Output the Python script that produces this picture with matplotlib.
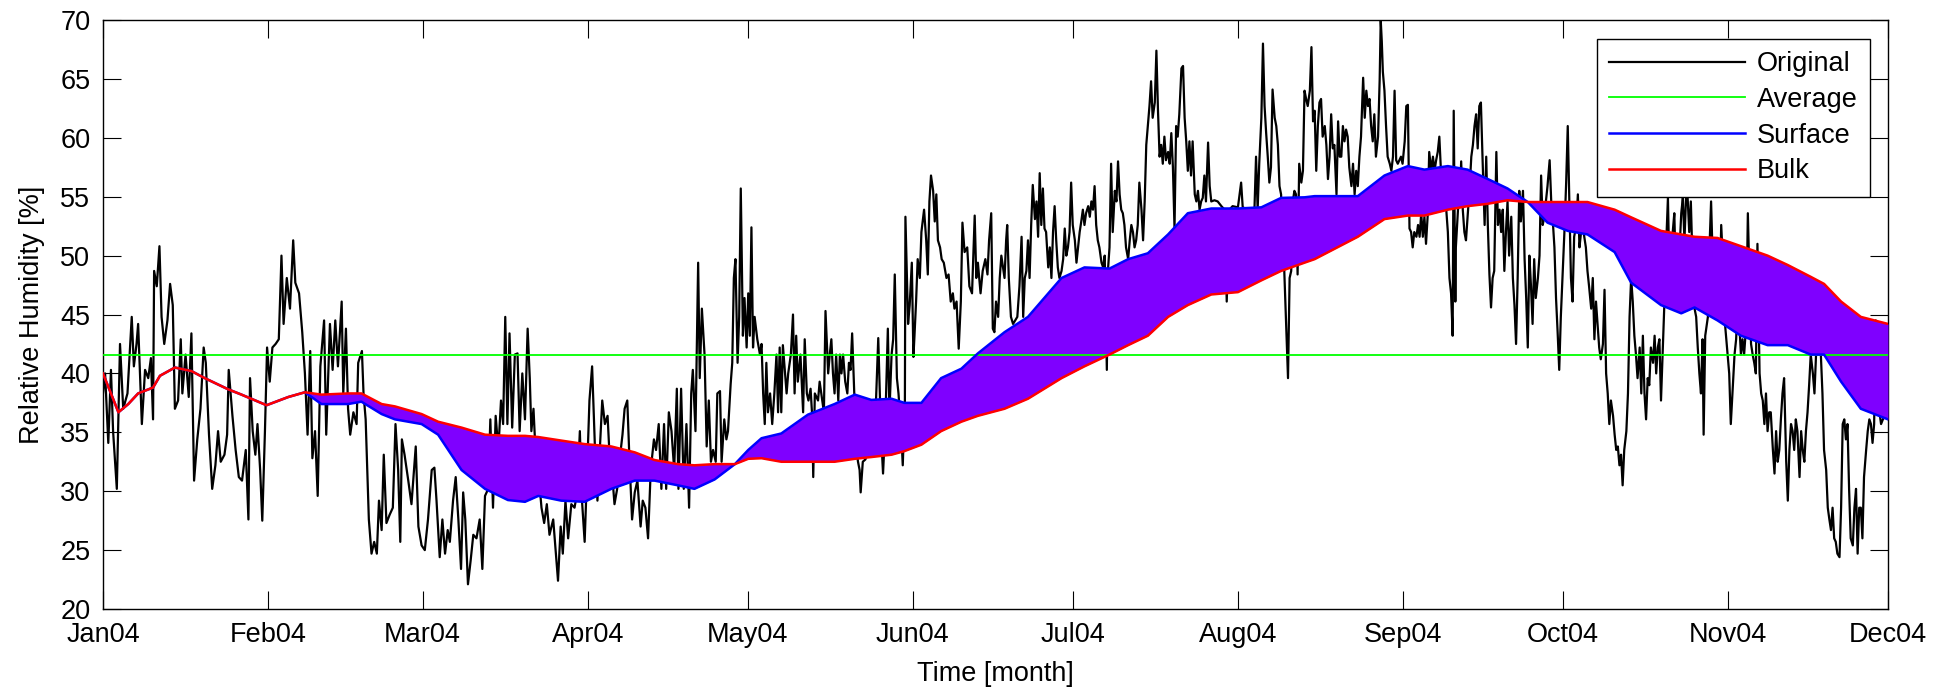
import numpy as np
import pandas as pd
import matplotlib
matplotlib.use('Agg')
import matplotlib.pyplot as plt
import matplotlib.dates as mdates

plt.rcParams['font.family'] = ['Liberation Sans', 'DejaVu Sans']

start = pd.Timestamp('2004-01-01')
end = pd.Timestamp('2004-12-01')

orig_pts = [
    (0.0, 38.3), (0.4, 40.0), (1.0, 34.1), (1.5, 40.3), (1.9, 35.1), (2.6, 30.2), (3.2, 42.5), (3.8, 37.0),
    (4.6, 38.3), (5.4, 44.8), (5.8, 40.6), (6.3, 42.5), (6.6, 44.2), (7.3, 35.7), (7.9, 40.3), (8.5, 39.6),
    (9.0, 41.3), (9.4, 36.1), (9.6, 48.7), (10.1, 47.4), (10.6, 50.8), (11.0, 44.8), (11.5, 42.5), (12.1, 44.5),
    (12.6, 47.6), (13.1, 45.8), (13.5, 37.0), (14.1, 37.7), (14.6, 42.9), (14.9, 38.3), (15.5, 41.6), (16.1, 38.0),
    (16.6, 43.4), (17.1, 30.9), (17.7, 34.4), (18.3, 37.0), (18.9, 42.2), (19.3, 40.9), (19.9, 34.8), (20.5, 30.2),
    (21.1, 32.2), (21.6, 35.1), (22.1, 32.5), (22.8, 33.1), (23.3, 34.8), (23.6, 40.3), (24.3, 36.4), (24.9, 33.5),
    (25.5, 31.2), (26.1, 30.9), (26.8, 33.5), (27.3, 27.6), (27.6, 39.6), (28.1, 35.1), (28.6, 33.1), (29.0, 35.7),
    (29.5, 31.8), (29.9, 27.5), (30.4, 35.1), (30.8, 42.2), (31.3, 39.3), (31.8, 42.2), (32.4, 42.5), (33.0, 42.9),
    (33.5, 50.0), (33.9, 44.2), (34.5, 48.1), (35.1, 45.5), (35.7, 51.3), (36.1, 47.7), (36.8, 46.8), (37.4, 43.5),
    (37.9, 40.0), (38.4, 34.8), (38.9, 41.9), (39.3, 32.8), (39.8, 35.1), (40.3, 29.6), (40.8, 40.6), (41.5, 44.5),
    (41.9, 34.8), (42.6, 44.2), (43.1, 40.3), (43.6, 44.5), (44.1, 40.6), (44.8, 46.1), (45.1, 38.3), (45.6, 43.8),
    (46.0, 37.0), (46.4, 34.8), (47.0, 36.7), (47.6, 35.7), (47.9, 40.9), (48.6, 41.9), (48.9, 38.3), (49.3, 36.1),
    (49.9, 27.6), (50.4, 24.7), (50.9, 25.7), (51.4, 24.7), (51.8, 29.2), (52.3, 26.7), (52.7, 33.1), (53.2, 27.3),
    (53.8, 28.0), (54.4, 28.6), (54.9, 35.7), (55.4, 31.8), (55.8, 25.7), (56.1, 34.4), (56.6, 33.1),
    # March
    (57.3, 30.9), (57.9, 28.9), (58.7, 33.8), (59.2, 27.0), (59.8, 25.4), (60.4, 25.0), (61.0, 27.6), (61.7, 31.8),
    (62.2, 32.0), (62.6, 29.2), (63.2, 24.4), (63.7, 27.6), (64.2, 24.7), (64.7, 26.7), (65.1, 25.7), (65.7, 29.2),
    (66.2, 31.2), (66.7, 27.6), (67.2, 23.4), (67.6, 29.9), (68.0, 27.6), (68.5, 22.1), (69.0, 24.1), (69.5, 26.3),
    (70.1, 26.0), (70.7, 27.6), (71.2, 23.4), (71.7, 29.6), (72.3, 30.2), (72.7, 36.1), (73.2, 28.6), (73.7, 36.4),
    (74.2, 33.5), (74.7, 37.7), (75.1, 35.7), (75.5, 44.8), (75.9, 35.7), (76.3, 43.4), (76.8, 35.4), (77.3, 41.6),
    (77.8, 41.7), (78.2, 35.1), (78.7, 40.0), (79.2, 36.1), (79.7, 43.8), (80.1, 39.6), (80.4, 35.1), (80.8, 37.0),
    (81.3, 32.2), (81.8, 31.2), (82.3, 28.6), (82.8, 27.3), (83.3, 28.9), (83.8, 26.3), (84.5, 27.6), (85.0, 24.7),
    (85.4, 22.4), (85.9, 27.0), (86.3, 24.7), (86.8, 29.2), (87.3, 26.0), (87.9, 28.9), (88.5, 28.6), (89.0, 29.9),
    (89.5, 35.1), (89.9, 29.2), (90.4, 25.7), (90.8, 30.9),
    # April
    (91.3, 37.7), (91.8, 40.6), (92.3, 34.1), (92.8, 29.2), (93.2, 33.1), (93.7, 37.7), (94.2, 35.7), (94.7, 36.4),
    (95.1, 32.8), (95.5, 31.8), (96.0, 28.9), (96.5, 30.2), (97.0, 32.8), (97.5, 34.8), (97.9, 37.0), (98.4, 37.7),
    (98.8, 32.8), (99.3, 27.6), (99.8, 29.9), (100.3, 30.9), (100.9, 27.0), (101.3, 29.2), (101.8, 28.6), (102.3, 26.0),
    (102.8, 31.8), (103.4, 34.4), (103.8, 33.5), (104.3, 35.7), (104.8, 30.2), (105.3, 35.7), (105.7, 30.2), (106.2, 36.7),
    (106.7, 35.1), (107.2, 31.8), (107.7, 38.7), (108.0, 30.2), (108.5, 38.7), (109.0, 30.2), (109.5, 35.7), (110.0, 28.6),
    (110.4, 38.3), (110.7, 40.3), (111.2, 35.1), (111.7, 49.4), (112.0, 39.6), (112.4, 45.5), (112.9, 41.6),
    (113.3, 33.8), (113.7, 37.7), (114.1, 32.5), (114.5, 33.5), (115.0, 32.5), (115.3, 38.3), (115.8, 38.5), (116.1, 32.5),
    (116.6, 36.1), (117.0, 34.4), (117.3, 35.1), (117.8, 39.1), (118.1, 40.9), (118.4, 48.1), (118.7, 49.7), (119.1, 40.9),
    (119.4, 44.8), (119.7, 55.7), (120.1, 43.2), (120.4, 46.4), (120.8, 42.2),
    # May
    (121.1, 46.8), (121.4, 43.2), (121.7, 52.4), (122.0, 42.2), (122.3, 44.8), (122.8, 42.9), (123.3, 41.6), (123.6, 42.5),
    (123.9, 38.3), (124.2, 35.7), (124.5, 40.9), (124.8, 36.7), (125.2, 38.3), (125.6, 35.7), (126.0, 38.3), (126.4, 41.6),
    (126.7, 36.7), (127.0, 42.2), (127.3, 36.7), (127.6, 42.4), (128.0, 40.0), (128.3, 38.3), (128.6, 40.0), (129.1, 41.6),
    (129.5, 45.0), (129.8, 38.3), (130.1, 43.2), (130.4, 39.3), (130.9, 41.6), (131.4, 36.7), (131.7, 42.9), (132.1, 38.3),
    (132.4, 37.7), (132.8, 38.7), (133.1, 36.4), (133.3, 31.2), (133.6, 38.3), (134.2, 37.7), (134.5, 39.3), (134.8, 38.3),
    (135.3, 36.7), (135.6, 45.3), (136.1, 40.0), (136.4, 41.6), (136.7, 42.9), (137.0, 40.0), (137.3, 38.3), (137.6, 41.6),
    (138.0, 37.7), (138.3, 41.6), (138.6, 40.0), (138.9, 41.6), (139.3, 39.3), (139.7, 38.3), (140.0, 40.9), (140.3, 40.3),
    (140.6, 43.4), (141.0, 38.3), (141.4, 33.5), (141.7, 32.5), (142.0, 31.8), (142.2, 29.9), (142.6, 32.5), (143.1, 32.7),
    (143.6, 33.5), (144.1, 36.7), (144.5, 34.4), (145.0, 36.7), (145.5, 43.0), (146.0, 35.1), (146.4, 31.5), (146.8, 35.4),
    (147.3, 43.8), (147.6, 36.7), (148.0, 41.6), (148.3, 42.9), (148.6, 48.4), (149.0, 39.6), (149.3, 38.3), (149.8, 35.1),
    (150.1, 32.2), (150.5, 37.7), (150.6, 53.3), (151.1, 44.2), (151.4, 45.8), (151.8, 49.4),
    # June
    (152.1, 41.4), (152.3, 43.2), (152.6, 46.1), (152.9, 49.7), (153.3, 48.1), (153.6, 52.0), (154.1, 53.9), (154.5, 51.3),
    (154.8, 48.4), (155.1, 54.6), (155.4, 56.8), (155.8, 55.5), (156.1, 52.9), (156.4, 55.2), (156.7, 51.3), (157.1, 50.7),
    (157.4, 49.7), (157.8, 49.4), (158.3, 48.1), (158.7, 48.4), (159.1, 46.1), (159.5, 46.8), (159.8, 45.5), (160.2, 46.1),
    (160.6, 42.1), (161.0, 46.1), (161.3, 52.8), (161.7, 50.3), (162.2, 50.7), (162.6, 47.4), (163.1, 46.8), (163.6, 53.4),
    (163.9, 48.1), (164.2, 49.4), (164.7, 46.8), (165.1, 48.7), (165.6, 49.7), (166.0, 48.4), (166.3, 51.3), (166.7, 53.6),
    (167.0, 43.8), (167.3, 43.5), (167.6, 46.1), (168.0, 44.8), (168.3, 48.1), (168.6, 50.0), (169.2, 48.1),
    (169.5, 51.3), (169.7, 52.6), (170.0, 48.1), (170.4, 44.8), (170.8, 44.2), (171.2, 44.5), (171.6, 44.8), (172.0, 47.4),
    (172.4, 51.6), (172.7, 44.8), (173.0, 48.1), (173.3, 48.7), (173.6, 51.3), (173.9, 48.1), (174.2, 52.6), (174.5, 56.0),
    (174.9, 53.1), (175.2, 54.6), (175.5, 51.6), (175.8, 57.0), (176.1, 52.6), (176.4, 55.7), (176.7, 52.3), (177.0, 52.0),
    (177.4, 49.0), (177.7, 50.7), (178.0, 48.1), (178.3, 52.0), (178.6, 54.2), (178.9, 51.3), (179.2, 49.0), (179.5, 48.1),
    (179.9, 48.7), (180.2, 49.7), (180.5, 52.3), (180.8, 50.0), (181.1, 50.7), (181.4, 52.0), (181.7, 56.2),
    # July
    (182.0, 52.6), (182.4, 51.3), (182.7, 49.4), (183.0, 50.7), (183.3, 52.0), (183.6, 52.9), (183.9, 53.9), (184.2, 52.6),
    (184.5, 53.6), (184.9, 54.2), (185.2, 53.3), (185.5, 54.6), (185.8, 53.9), (186.1, 55.9), (186.4, 52.6), (186.7, 51.3),
    (187.0, 50.7), (187.4, 49.4), (187.7, 49.0), (188.0, 50.0), (188.4, 40.3), (188.6, 48.7), (188.9, 50.7), (189.2, 57.8),
    (189.5, 52.0), (189.9, 55.5), (190.2, 54.6), (190.5, 58.0), (190.8, 55.2), (191.1, 53.9), (191.4, 53.6), (191.7, 52.6),
    (192.0, 50.7), (192.4, 49.7), (192.7, 51.3), (193.0, 52.6), (193.3, 52.0), (193.6, 50.7), (193.9, 51.3), (194.2, 52.6),
    (194.5, 56.2), (194.9, 53.9), (195.2, 51.3), (195.5, 54.6), (195.8, 59.4), (196.1, 61.0), (196.4, 62.7), (196.7, 64.8),
    (197.0, 61.7), (197.4, 63.0), (197.7, 67.4), (198.0, 62.3), (198.3, 58.4), (198.6, 59.4), (198.9, 57.8), (199.2, 60.1),
    (199.5, 58.1), (199.9, 58.8), (200.2, 57.8), (200.5, 60.4), (200.8, 57.5), (201.1, 52.3), (201.4, 61.0), (201.7, 60.1),
    (202.0, 62.0), (202.4, 65.9), (202.7, 66.1), (203.0, 61.7), (203.3, 59.7), (203.6, 57.2), (203.9, 59.7), (204.2, 56.8),
    (204.5, 59.7), (204.9, 55.2), (205.2, 54.6), (205.5, 55.5), (205.8, 53.9), (206.1, 54.6), (206.4, 54.9), (206.7, 56.8),
    (207.0, 54.6), (207.4, 59.6), (207.7, 55.9), (208.0, 54.6), (208.6, 54.7), (209.2, 54.6), (209.9, 54.2), (210.5, 53.9),
    (210.9, 46.1), (211.4, 53.9), (212.0, 54.2),
    # August
    (213.0, 54.1), (213.6, 56.2), (213.9, 54.1), (214.9, 53.9), (216.1, 53.9), (216.4, 58.4), (216.7, 53.9), (217.0, 57.8),
    (217.4, 61.7), (217.7, 68.0), (218.0, 62.7), (218.3, 60.4), (218.6, 58.4), (218.9, 56.2), (219.2, 57.5), (219.5, 64.1),
    (219.9, 61.7), (220.2, 61.0), (220.5, 59.4), (220.8, 55.9), (221.1, 55.2), (221.4, 51.6), (221.7, 48.7), (222.0, 44.8),
    (222.4, 39.6), (222.7, 48.1), (223.0, 48.7), (223.3, 54.6), (223.6, 55.5), (223.9, 55.2), (224.2, 48.4), (224.5, 57.8),
    (224.9, 56.2), (225.2, 57.2), (225.5, 64.0), (225.8, 63.3), (226.1, 62.7), (226.5, 64.0), (226.8, 67.7), (227.1, 61.4),
    (227.4, 62.3), (227.7, 57.2), (228.0, 61.0), (228.3, 63.0), (228.6, 63.3), (228.9, 60.1), (229.3, 61.0), (229.6, 59.4),
    (229.9, 56.5), (230.2, 58.4), (230.5, 62.0), (230.8, 59.1), (231.1, 59.4), (231.5, 55.2), (231.8, 61.4), (232.1, 58.4),
    (232.4, 58.4), (232.7, 61.0), (233.0, 59.7), (233.3, 60.7), (233.6, 60.1), (233.9, 57.5), (234.3, 55.9), (234.6, 57.8),
    (234.9, 55.2), (235.2, 57.2), (235.5, 55.9), (235.8, 58.4), (236.1, 60.1), (236.5, 65.1), (236.8, 61.7), (237.1, 64.0),
    (237.4, 62.7), (237.7, 63.3), (238.0, 61.0), (238.3, 59.7), (238.6, 62.0), (238.9, 58.4), (239.3, 60.1), (239.6, 64.9),
    (239.8, 70.0), (240.0, 68.2), (240.2, 65.6), (240.5, 64.0), (240.8, 61.0), (241.1, 58.4), (241.5, 57.8), (241.8, 57.2),
    (242.1, 58.4), (242.4, 64.0), (242.7, 58.1), (243.0, 57.8), (243.6, 58.4), (243.9, 57.8),
    # September
    (244.3, 59.7), (244.6, 62.7), (244.9, 62.8), (245.2, 52.3), (245.5, 52.0), (245.8, 50.7), (246.1, 52.0), (246.5, 51.6),
    (246.8, 52.6), (247.1, 51.6), (247.4, 53.6), (247.7, 51.6), (248.0, 53.3), (248.3, 51.0), (248.6, 53.3), (248.9, 58.8),
    (249.3, 57.2), (249.6, 58.4), (249.9, 57.2), (250.2, 58.1), (250.5, 58.8), (250.8, 60.1), (251.1, 57.2), (251.5, 54.6),
    (251.8, 55.5), (252.1, 53.9), (252.4, 52.0), (252.7, 48.1), (253.0, 46.8), (253.3, 43.2), (253.5, 62.3), (253.8, 46.1),
    (253.9, 50.7), (254.3, 53.9), (254.6, 54.6), (254.9, 58.0), (255.2, 53.9), (255.5, 52.0), (255.8, 51.3), (256.1, 53.3),
    (256.5, 55.9), (256.8, 58.4), (257.1, 59.4), (257.4, 61.0), (257.7, 62.0), (258.0, 59.1), (258.3, 62.7), (258.6, 63.0),
    (258.9, 58.4), (259.3, 52.6), (259.6, 58.4), (259.9, 52.6), (260.2, 48.4), (260.5, 45.6), (260.8, 48.1), (261.1, 48.7),
    (261.5, 58.8), (261.8, 52.6), (262.1, 53.9), (262.4, 52.0), (262.7, 53.9), (263.0, 48.7), (263.3, 52.0), (263.6, 54.6),
    (263.9, 50.0), (264.3, 53.3), (264.6, 48.1), (264.9, 45.8), (265.2, 42.5), (265.5, 48.1), (265.8, 55.5), (266.1, 52.9),
    (266.5, 55.5), (266.8, 49.7), (267.1, 46.4), (267.4, 42.2), (267.7, 50.0), (268.0, 47.4), (268.3, 44.2), (268.6, 49.7),
    (268.9, 46.4), (269.3, 48.1), (269.6, 50.0), (269.9, 56.8), (270.2, 52.6), (270.5, 53.3), (270.8, 54.6), (271.1, 55.9),
    (271.5, 58.1), (271.8, 54.6), (272.1, 52.9), (272.4, 50.7), (272.7, 46.4), (273.0, 43.5), (273.3, 40.3), (273.6, 44.8),
    # October
    (273.9, 48.1), (274.3, 52.3), (274.6, 56.2), (274.9, 61.0), (275.2, 54.6), (275.5, 48.1), (275.8, 46.1), (276.1, 51.6),
    (276.5, 52.6), (276.8, 55.2), (277.1, 50.7), (277.4, 52.0), (277.7, 52.6), (278.0, 51.6), (278.3, 50.7), (278.6, 48.7),
    (278.9, 47.4), (279.3, 45.5), (279.6, 48.1), (279.9, 42.9), (280.2, 46.1), (280.5, 44.2), (280.8, 42.2), (281.1, 41.2),
    (281.5, 42.5), (281.8, 47.1), (282.1, 40.0), (282.4, 38.3), (282.7, 35.7), (283.0, 37.7), (283.4, 36.4), (283.7, 34.8),
    (284.0, 33.5), (284.3, 33.8), (284.6, 32.2), (284.9, 33.1), (285.2, 30.5), (285.5, 33.5), (285.9, 35.1), (286.2, 38.3),
    (286.5, 44.8), (286.8, 48.1), (287.1, 46.1), (287.4, 43.2), (287.7, 41.6), (288.0, 39.6), (288.4, 42.2), (288.7, 38.3),
    (289.0, 43.2), (289.3, 38.3), (289.6, 36.1), (289.9, 39.6), (290.2, 39.0), (290.5, 42.2), (290.9, 40.9), (291.2, 43.2),
    (291.5, 40.0), (291.8, 42.2), (292.1, 42.9), (292.4, 37.7), (292.7, 41.6), (293.0, 45.5), (293.4, 51.3), (293.7, 54.9),
    (294.0, 48.1), (294.3, 50.7), (294.6, 52.0), (294.9, 53.6), (295.2, 48.1), (295.5, 46.4), (295.9, 50.7), (296.2, 53.6),
    (296.5, 54.9), (296.8, 51.3), (297.1, 54.9), (297.4, 54.9), (297.7, 52.0), (298.0, 54.6), (298.4, 48.1), (298.7, 45.5),
    (299.0, 44.8), (299.3, 42.2), (299.6, 40.0), (299.9, 38.3), (300.2, 42.9), (300.4, 34.8), (300.7, 43.2), (301.2, 44.8),
    (301.5, 50.7), (301.8, 54.6), (302.1, 49.7), (302.4, 48.1), (302.7, 45.5), (303.0, 44.8), (303.4, 46.4), (303.7, 52.6),
    (304.0, 49.7), (304.3, 44.8), (304.6, 43.2),
    # November
    (304.9, 41.6), (305.2, 40.0), (305.5, 35.7), (305.9, 39.0), (306.2, 41.6), (306.5, 42.9), (306.8, 46.1), (307.1, 44.2),
    (307.4, 41.6), (307.7, 42.9), (308.0, 41.6), (308.4, 44.2), (308.7, 53.6), (309.0, 48.1), (309.3, 42.5), (309.6, 41.6),
    (309.9, 40.9), (310.2, 40.0), (310.5, 51.0), (310.9, 40.0), (311.2, 38.3), (311.5, 37.7), (311.8, 35.7), (312.1, 38.3),
    (312.4, 35.1), (312.7, 36.7), (313.0, 36.7), (313.4, 33.5), (313.7, 31.5), (314.0, 35.1), (314.3, 32.5), (314.6, 33.5),
    (314.9, 36.1), (315.2, 38.3), (315.5, 39.6), (315.9, 32.5), (316.2, 29.2), (316.5, 33.5), (316.8, 35.7), (317.1, 35.1),
    (317.4, 33.5), (317.7, 36.1), (318.0, 35.1), (318.4, 31.2), (318.7, 35.1), (319.0, 33.5), (319.3, 32.5), (319.6, 35.1),
    (319.9, 36.7), (320.2, 39.0), (320.5, 41.6), (320.9, 40.0), (321.2, 38.3), (321.5, 41.6), (321.8, 42.2), (322.4, 41.6),
    (322.7, 38.3), (323.0, 33.5), (323.4, 31.8), (323.7, 28.6), (324.0, 27.6), (324.3, 26.7), (324.6, 28.6), (324.9, 26.0),
    (325.2, 25.7), (325.5, 24.7), (325.9, 24.4), (326.2, 28.6), (326.5, 35.7), (326.8, 36.1), (327.1, 34.4), (327.4, 35.7),
    (327.7, 30.2), (328.0, 26.0), (328.4, 25.4), (328.7, 28.6), (329.0, 30.2), (329.3, 24.7), (329.6, 28.6), (329.9, 28.6),
    (330.2, 26.0), (330.5, 31.2), (330.9, 33.5), (331.2, 35.1), (331.5, 36.1), (331.8, 35.7), (332.1, 34.1), (332.4, 35.7),
    (332.7, 44.5), (333.0, 38.7), (333.4, 36.7), (333.7, 35.7), (334.3, 36.4), (335.0, 36.4),
]

avg_rh = 41.6

# smoothed surface / bulk responses
smooth_day = [0.0, 1.5, 2.9, 4.75, 6.6, 9.4, 10.7, 13.5, 16.6, 19.1, 23.5, 26.0, 30.7, 34.8, 37.9,
              41.0, 46.0, 48.5, 52.3, 54.8, 59.8, 62.9, 67.3, 71.7, 76.0, 79.2, 81.7, 86.0, 90.4,
              95.4, 99.8, 103.5, 107.9, 111.0, 114.8, 118.6, 121.1, 123.6, 127.3, 132.3, 137.3, 141.1,
              144.2, 148.0, 150.4, 153.6, 157.3, 161.1, 164.2, 169.2, 173.6, 179.9, 184.2, 188.9, 192.4,
              196.1, 199.9, 203.6, 208.0, 213.0, 217.4, 221.1, 225.5, 227.4, 235.5, 240.5, 244.9, 248.0,
              252.4, 256.1, 259.9, 263.6, 267.4, 271.1, 274.9, 278.6, 283.7, 286.8, 292.4, 296.2, 298.7,
              303.0, 307.4, 312.4, 316.2, 320.5, 323.0, 326.2, 329.9, 335.0]
bulk_rh = [40.0, 38.3, 36.7, 37.4, 38.3, 38.8, 39.8, 40.5, 40.2, 39.6, 38.65, 38.2, 37.3, 38.0, 38.4,
           38.2, 38.3, 38.3, 37.4, 37.2, 36.55, 35.9, 35.4, 34.8, 34.7, 34.7, 34.6, 34.3, 34.0,
           33.8, 33.3, 32.65, 32.3, 32.2, 32.3, 32.3, 32.75, 32.8, 32.5, 32.5, 32.5, 32.75,
           32.9, 33.1, 33.4, 33.95, 35.1, 35.9, 36.4, 37.0, 37.85, 39.6, 40.6, 41.6, 42.4,
           43.2, 44.8, 45.8, 46.7, 46.9, 47.9, 48.7, 49.4, 49.7, 51.6, 53.1, 53.4, 53.4,
           53.9, 54.2, 54.4, 54.7, 54.55, 54.55, 54.55, 54.55, 53.9, 53.25, 52.1, 51.8, 51.6,
           51.5, 50.8, 50.0, 49.2, 48.2, 47.6, 46.1, 44.8, 44.2]
surface_rh = [40.0, 38.3, 36.7, 37.4, 38.3, 38.8, 39.8, 40.5, 40.2, 39.6, 38.65, 38.2, 37.3, 38.0, 38.4,
              37.4, 37.4, 37.6, 36.55, 36.1, 35.7, 34.8, 31.8, 30.2, 29.25, 29.1, 29.6, 29.2, 29.1,
              30.2, 30.9, 30.9, 30.5, 30.2, 31.0, 32.3, 33.5, 34.5, 34.9, 36.5, 37.4, 38.2,
              37.75, 37.85, 37.5, 37.5, 39.6, 40.4, 41.7, 43.5, 44.8, 48.1, 49.0, 48.9, 49.7,
              50.2, 51.8, 53.6, 54.0, 54.0, 54.1, 54.9, 54.95, 55.05, 55.05, 56.8, 57.6, 57.3,
              57.6, 57.3, 56.5, 55.7, 54.55, 52.8, 52.1, 51.8, 50.3, 47.7, 45.8, 45.1, 45.6,
              44.5, 43.2, 42.4, 42.4, 41.6, 41.6, 39.3, 37.0, 36.1]


def to_dates(days):
    return (start + pd.to_timedelta(np.asarray(days, dtype=float), unit='D')).to_numpy()


orig_day, orig_rh = zip(*orig_pts)
t_orig = to_dates(orig_day)
t_smooth = to_dates(smooth_day)

fig = plt.figure(figsize=(19.5, 6.93), dpi=100)
ax = fig.add_axes([0.0528, 0.1212, 0.9154, 0.8499])

ax.plot(t_orig, orig_rh, color='black', lw=1.6, label='Original', zorder=2)
ax.fill_between(t_smooth, surface_rh, bulk_rh, color='#7f00ff', lw=0, zorder=3)
ax.axhline(avg_rh, color='#00ff00', lw=1.3, label='Average', zorder=4)
ax.plot(t_smooth, surface_rh, color='#0000ff', lw=1.8, label='Surface', zorder=5, solid_joinstyle='round')
ax.plot(t_smooth, bulk_rh, color='#ff0000', lw=1.8, label='Bulk', zorder=6, solid_joinstyle='round')

ax.set_xlim(start, end)
ax.set_ylim(20, 70)
ax.set_yticks(np.arange(20, 71, 5))
ax.xaxis.set_major_locator(mdates.MonthLocator())
ax.xaxis.set_major_formatter(mdates.DateFormatter('%b%y'))

ax.tick_params(direction='in', length=13, width=0.8, top=True, right=True,
               labelsize=19.5, pad=9, color='black')
for s in ax.spines.values():
    s.set_linewidth(1.0)
    s.set_color('black')

ax.set_xlabel('Time [month]', fontsize=19.5, labelpad=10)
ax.set_ylabel('Relative Humidity [%]', fontsize=19.5, labelpad=11)

leg = ax.legend(loc='upper right', bbox_to_anchor=(0.99, 0.968), borderaxespad=0,
                fontsize=19.5, handlelength=5.0, handletextpad=0.45, labelspacing=0.36,
                borderpad=0.45, fancybox=False, framealpha=1, edgecolor='black')
leg.get_frame().set_linewidth(1.0)

fig.savefig('out.png', dpi=100)
